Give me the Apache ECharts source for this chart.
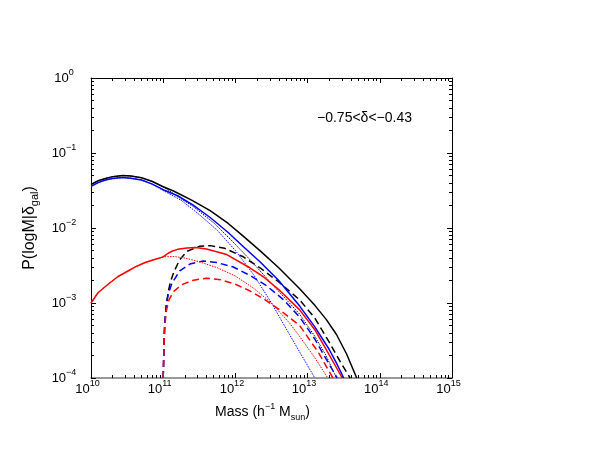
<!DOCTYPE html>
<html>
<head>
<meta charset="utf-8">
<script src="https://cdn.jsdelivr.net/npm/echarts@6/dist/echarts.min.js"></script>
<style>
  html, body { margin: 0; padding: 0; background: #fff; }
  #chart { width: 592px; height: 458px; }
</style>
</head>
<body>
<div id="chart"></div>
<script>
// data: log10 of halo mass and P(logM|delta_gal)
const blackTotalLogM = [10.0, 10.1, 10.2, 10.3, 10.44, 10.55, 10.7, 10.85, 11.0, 11.15, 11.4, 11.65, 11.9, 12.1, 12.34, 12.6, 12.89, 13.1, 13.26, 13.4, 13.54, 13.68]
const blackTotalP = [3.8e-2, 4.27e-2, 4.57e-2, 4.84e-2, 5.01e-2, 4.95e-2, 4.68e-2, 4.17e-2, 3.55e-2, 3.09e-2, 2.34e-2, 1.70e-2, 1.15e-2, 7.9e-3, 5.0e-3, 2.95e-3, 1.55e-3, 9.3e-4, 6.0e-4, 3.8e-4, 2.09e-4, 1.0e-4]

const blackCenLogM = [10.0, 10.1, 10.2, 10.3, 10.44, 10.55, 10.7, 10.85, 11.0, 11.2, 11.41, 11.7, 11.93, 12.2, 12.5, 12.89, 13.1, 13.25, 13.4]
const blackCenP = [3.8e-2, 4.27e-2, 4.57e-2, 4.84e-2, 5.01e-2, 4.95e-2, 4.68e-2, 4.17e-2, 3.55e-2, 2.63e-2, 1.95e-2, 1.17e-2, 7.1e-3, 3.8e-3, 1.82e-3, 7.1e-4, 3.6e-4, 2.04e-4, 1.0e-4]

const blackSatLogM = [11.0, 11.01, 11.02, 11.04, 11.07, 11.1, 11.15, 11.23, 11.33, 11.5, 11.65, 11.85, 12.1, 12.34, 12.6, 12.89, 13.1, 13.3, 13.45, 13.59]
const blackSatP = [1.0e-4, 2.5e-4, 5.0e-4, 8.9e-4, 1.41e-3, 1.91e-3, 2.63e-3, 3.8e-3, 4.9e-3, 5.69e-3, 5.82e-3, 5.37e-3, 4.17e-3, 2.95e-3, 1.91e-3, 1.10e-3, 6.3e-4, 3.0e-4, 1.66e-4, 1.0e-4]

const blueTotalLogM = [10.0, 10.1, 10.2, 10.3, 10.44, 10.55, 10.7, 10.85, 11.0, 11.2, 11.41, 11.65, 11.9, 12.1, 12.34, 12.6, 12.89, 13.1, 13.3, 13.4, 13.5]
const blueTotalP = [3.59e-2, 4.03e-2, 4.37e-2, 4.57e-2, 4.73e-2, 4.62e-2, 4.37e-2, 3.85e-2, 3.24e-2, 2.69e-2, 2.04e-2, 1.38e-2, 8.7e-3, 5.75e-3, 3.55e-3, 2.0e-3, 9.1e-4, 4.8e-4, 2.4e-4, 1.58e-4, 1.0e-4]

const blueCenLogM = [10.0, 10.1, 10.2, 10.3, 10.44, 10.55, 10.7, 10.85, 11.0, 11.25, 11.5, 11.75, 12.0, 12.25, 12.5, 12.75, 12.9, 13.1]
const blueCenP = [3.59e-2, 4.03e-2, 4.37e-2, 4.57e-2, 4.73e-2, 4.62e-2, 4.37e-2, 3.85e-2, 3.16e-2, 2.34e-2, 1.51e-2, 9.3e-3, 5.0e-3, 2.4e-3, 1.0e-3, 3.8e-4, 2.14e-4, 1.0e-4]

const blueSatLogM = [11.0, 11.01, 11.02, 11.04, 11.07, 11.12, 11.23, 11.37, 11.55, 11.74, 11.97, 12.2, 12.43, 12.66, 12.89, 13.1, 13.24, 13.41]
const blueSatP = [1.0e-4, 2.5e-4, 5.0e-4, 8.9e-4, 1.32e-3, 1.82e-3, 2.69e-3, 3.31e-3, 3.63e-3, 3.47e-3, 3.02e-3, 2.34e-3, 1.70e-3, 1.12e-3, 6.5e-4, 3.3e-4, 1.91e-4, 1.0e-4]

const redTotalLogM = [10.0, 10.1, 10.25, 10.37, 10.5, 10.62, 10.75, 10.88, 11.0, 11.05, 11.12, 11.2, 11.33, 11.45, 11.6, 11.88, 12.2, 12.4, 12.6, 12.89, 13.1, 13.28, 13.48]
const redTotalP = [1.0e-3, 1.38e-3, 1.82e-3, 2.24e-3, 2.63e-3, 3.05e-3, 3.47e-3, 3.8e-3, 4.12e-3, 4.47e-3, 4.9e-3, 5.19e-3, 5.43e-3, 5.5e-3, 5.25e-3, 4.42e-3, 2.95e-3, 2.19e-3, 1.51e-3, 8.1e-4, 4.4e-4, 2.19e-4, 1.0e-4]

const redCenLogM = [10.0, 10.1, 10.25, 10.37, 10.5, 10.62, 10.75, 10.88, 11.0, 11.15, 11.3, 11.5, 11.75, 12.0, 12.25, 12.5, 12.75, 12.9, 13.1, 13.28]
const redCenP = [1.0e-3, 1.38e-3, 1.82e-3, 2.24e-3, 2.63e-3, 3.05e-3, 3.47e-3, 3.8e-3, 4.12e-3, 4.17e-3, 3.98e-3, 3.55e-3, 2.95e-3, 2.29e-3, 1.58e-3, 1.0e-3, 5.4e-4, 3.47e-4, 1.86e-4, 1.0e-4]

const redSatLogM = [11.0, 11.01, 11.02, 11.04, 11.08, 11.14, 11.25, 11.4, 11.6, 11.8, 12.0, 12.2, 12.4, 12.6, 12.89, 13.15, 13.35]
const redSatP = [1.0e-4, 2.5e-4, 4.47e-4, 7.6e-4, 1.10e-3, 1.41e-3, 1.74e-3, 2.0e-3, 2.14e-3, 2.04e-3, 1.78e-3, 1.45e-3, 1.12e-3, 8.3e-4, 5.0e-4, 2.19e-4, 1.0e-4]

// axes
const xMin = 1e10, xMax = 1e15
const yMin = 1e-4, yMax = 1
const xDecadeExps = [10, 11, 12, 13, 14]
const yDecadeExps = [-4, -3, -2, -1]
const minorSteps = [2, 3, 4, 5, 6, 7, 8, 9]
const rangeText = '\u22120.75<\u03b4<\u22120.43'

const FONT = 'Liberation Sans'

function minorTicks(exps) {
  const out = []
  exps.forEach(e => minorSteps.forEach(s => out.push(s * Math.pow(10, e))))
  return out
}

function pairs(logM, p) {
  return logM.map((m, i) => [Math.pow(10, m), p[i]])
}

function powLabel(value) {
  const e = Math.round(Math.log10(value))
  return '{b|10}{s|' + String(e).replace('-', '\u2212') + '}'
}

const labelRich = {
  b: { fontFamily: FONT, fontSize: 13, color: '#000', lineHeight: 20 },
  s: { fontFamily: FONT, fontSize: 9, color: '#000', lineHeight: 11, verticalAlign: 'top' }
}

function line(name, logM, p, color, type, width) {
  return {
    name: name,
    type: 'line',
    xAxisIndex: 0,
    yAxisIndex: 0,
    data: pairs(logM, p),
    showSymbol: false,
    smooth: false,
    clip: true,
    lineStyle: { color: color, type: type, width: width, join: 'round' },
    z: 3
  }
}

function renderChart() {
  const chart = echarts.init(document.getElementById('chart'), null, { renderer: 'canvas' })
  const dotted = [1.5, 1.2]
  const dashed = [7, 4]
  const option = {
    animation: false,
    backgroundColor: '#fff',
    title: {
      text: rangeText,
      left: 317,
      top: 110,
      padding: 0,
      textStyle: { fontFamily: FONT, fontSize: 14, fontWeight: 'normal', color: '#000', lineHeight: 16 }
    },
    grid: { left: 91, top: 78, width: 361, height: 300, containLabel: false },
    xAxis: [
      {
        type: 'log', logBase: 10, min: xMin, max: xMax, position: 'bottom',
        name: 'Mass (h{sup|\u22121} M{sub|sun})',
        nameLocation: 'middle', nameGap: 24,
        nameTextStyle: {
          fontFamily: FONT, fontSize: 14, color: '#000', lineHeight: 20, padding: [0, 18, 0, 0],
          rich: {
            sup: { fontFamily: FONT, fontSize: 9, lineHeight: 11, verticalAlign: 'top', color: '#000' },
            sub: { fontFamily: FONT, fontSize: 9, lineHeight: 10, verticalAlign: 'bottom', color: '#000' }
          }
        },
        axisLine: { show: true, onZero: false, lineStyle: { color: '#777', width: 1.5 } },
        axisTick: { show: true, inside: true, length: 5, lineStyle: { color: '#000', width: 1 } },
        axisLabel: { show: true, margin: 1, formatter: powLabel, rich: labelRich, padding: [0, 7, 0, 0] },
        splitLine: { show: false }
      },
      {
        type: 'log', logBase: 10, min: xMin, max: xMax, position: 'top',
        axisLine: { show: true, onZero: false, lineStyle: { color: '#000', width: 1 } },
        axisTick: { show: true, inside: true, length: 5, lineStyle: { color: '#000', width: 1 } },
        axisLabel: { show: false },
        splitLine: { show: false }
      },
      {
        type: 'log', logBase: 10, min: xMin, max: xMax, position: 'bottom',
        axisLine: { show: false },
        axisTick: { show: true, inside: true, length: 3, customValues: minorTicks(xDecadeExps), lineStyle: { color: '#000', width: 1 } },
        axisLabel: { show: false },
        splitLine: { show: false }
      },
      {
        type: 'log', logBase: 10, min: xMin, max: xMax, position: 'top',
        axisLine: { show: false },
        axisTick: { show: true, inside: true, length: 3, customValues: minorTicks(xDecadeExps), lineStyle: { color: '#000', width: 1 } },
        axisLabel: { show: false },
        splitLine: { show: false }
      }
    ],
    yAxis: [
      {
        type: 'log', logBase: 10, min: yMin, max: yMax, position: 'left',
        name: 'P(logM|\u03b4{sub|gal})',
        nameLocation: 'middle', nameGap: 41, nameRotate: 90,
        nameTextStyle: {
          fontFamily: FONT, fontSize: 16, color: '#000', lineHeight: 22,
          rich: {
            sub: { fontFamily: FONT, fontSize: 11, lineHeight: 12, verticalAlign: 'bottom', color: '#000' }
          }
        },
        axisLine: { show: true, onZero: false, lineStyle: { color: '#000', width: 1 } },
        axisTick: { show: true, inside: true, length: 5, lineStyle: { color: '#000', width: 1 } },
        axisLabel: { show: true, margin: 27, align: 'center', formatter: powLabel, rich: labelRich },
        splitLine: { show: false }
      },
      {
        type: 'log', logBase: 10, min: yMin, max: yMax, position: 'right',
        axisLine: { show: true, onZero: false, lineStyle: { color: '#000', width: 1 } },
        axisTick: { show: true, inside: true, length: 5, lineStyle: { color: '#000', width: 1 } },
        axisLabel: { show: false },
        splitLine: { show: false }
      },
      {
        type: 'log', logBase: 10, min: yMin, max: yMax, position: 'left',
        axisLine: { show: false },
        axisTick: { show: true, inside: true, length: 3, customValues: minorTicks(yDecadeExps), lineStyle: { color: '#000', width: 1 } },
        axisLabel: { show: false },
        splitLine: { show: false }
      },
      {
        type: 'log', logBase: 10, min: yMin, max: yMax, position: 'right',
        axisLine: { show: false },
        axisTick: { show: true, inside: true, length: 3, customValues: minorTicks(yDecadeExps), lineStyle: { color: '#000', width: 1 } },
        axisLabel: { show: false },
        splitLine: { show: false }
      }
    ],
    series: [
      line('black total', blackTotalLogM, blackTotalP, '#000000', 'solid', 1.5),
      line('black central', blackCenLogM, blackCenP, '#000000', dotted, 1),
      line('black satellite', blackSatLogM, blackSatP, '#000000', dashed, 1.5),
      line('blue total', blueTotalLogM, blueTotalP, '#0000ff', 'solid', 1.5),
      line('blue central', blueCenLogM, blueCenP, '#0000ff', dotted, 1),
      line('blue satellite', blueSatLogM, blueSatP, '#0000ff', dashed, 1.5),
      line('red total', redTotalLogM, redTotalP, '#ff0000', 'solid', 1.5),
      line('red central', redCenLogM, redCenP, '#ff0000', dotted, 1),
      line('red satellite', redSatLogM, redSatP, '#ff0000', dashed, 1.5)
    ]
  }
  chart.setOption(option)
}

document.addEventListener('DOMContentLoaded', renderChart)
</script>
</body>
</html>
